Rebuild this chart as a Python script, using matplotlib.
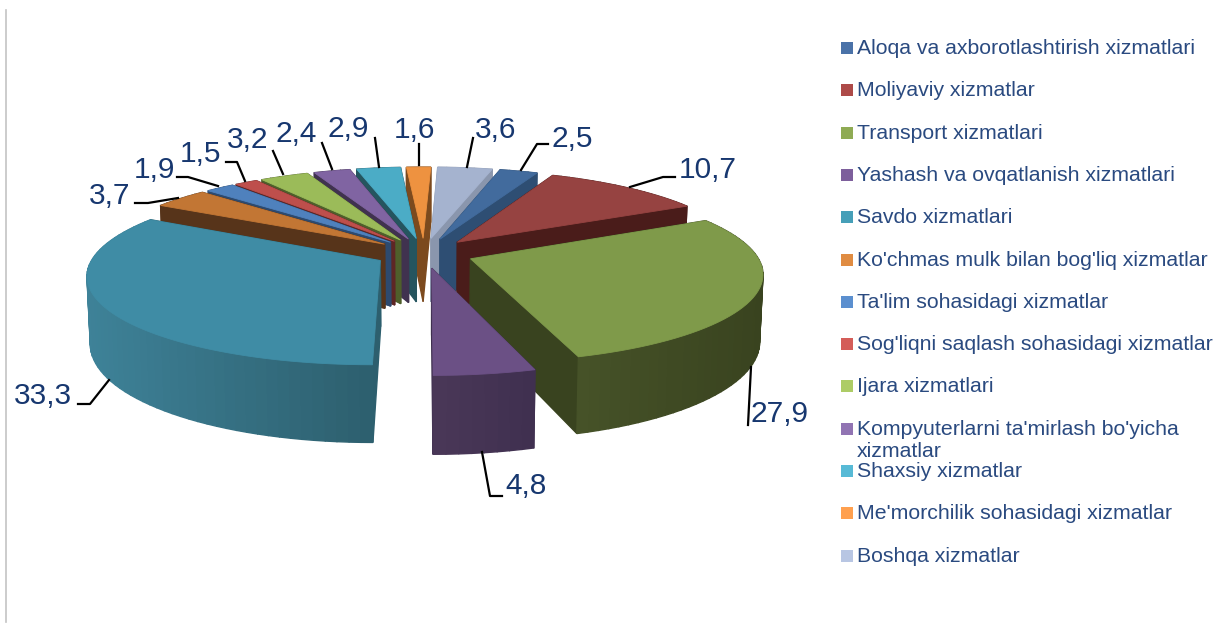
import numpy as np
import matplotlib
matplotlib.use("Agg")
import matplotlib.pyplot as plt
from matplotlib.colors import to_rgb
from matplotlib.patches import Rectangle

plt.rcParams['font.family'] = ['Liberation Sans', 'DejaVu Sans']

# ====== DATA ======
categories = [
    "Aloqa va axborotlashtirish xizmatlari",
    "Moliyaviy xizmatlar",
    "Transport xizmatlari",
    "Yashash va ovqatlanish xizmatlari",
    "Savdo xizmatlari",
    "Ko'chmas mulk bilan bog'liq xizmatlar",
    "Ta'lim sohasidagi xizmatlar",
    "Sog'liqni saqlash sohasidagi xizmatlar",
    "Ijara xizmatlari",
    "Kompyuterlarni ta'mirlash bo'yicha\nxizmatlar",
    "Shaxsiy xizmatlar",
    "Me'morchilik sohasidagi xizmatlar",
    "Boshqa xizmatlar",
]
values = [2.5, 10.7, 27.9, 4.8, 33.3, 3.7, 1.9, 1.5, 3.2, 2.4, 2.9, 1.6, 3.6]
value_labels = ["2,5", "10,7", "27,9", "4,8", "33,3", "3,7", "1,9", "1,5", "3,2", "2,4", "2,9", "1,6", "3,6"]

# ====== COLOURS ======
top_colors = ['#426B9D', '#964341', '#7F9A4A', '#6B5085', '#3F8CA5', '#C27634', '#4F81BD',
              '#BE4F4C', '#9BBB59', '#8064A2', '#4BACC6', '#EE9240', '#A5B3CF']
wall_left = ['#2E4E73', '#4A1C1A', '#465228', '#4A3858', '#3E8298', '#57341A', '#2D4A6F',
             '#5E2625', '#4F5F2B', '#40324F', '#25555F', '#7C4A1E', '#8A96AD']
wall_right = ['#2E4E73', '#4A1C1A', '#39431F', '#3F3050', '#2D5F6E', '#57341A', '#2D4A6F',
              '#5E2625', '#4F5F2B', '#40324F', '#25555F', '#7C4A1E', '#8A96AD']
legend_colors = ['#4A72A8', '#AD4A48', '#8FAB54', '#7D5F9C', '#469FB8', '#E08C42', '#5B8FCF',
                 '#D45D59', '#ADCC66', '#9174B3', '#57BAD6', '#FFA04F', '#B8C6E3']
text_color = '#17376F'

# ====== PIE GEOMETRY (pixels) ======
start_angle = 14.76
explode = 0.175
cx, cy = 424, 253
scale_x, scale_y = 285, 86
persp = 0.15
depth = 65

# label centre and leader line, same order as values
label_xy = [(572, 139), (708, 170), (780, 414), (526, 486), (43, 396), (110, 196), (154, 170),
            (200, 154), (248, 140), (296, 134), (348, 129), (415, 130), (496, 130)]
leaders = [
    [(548, 144), (537, 144), (521, 170)],
    [(675, 177), (663, 177), (630, 187)],
    [(748, 425), (751, 367)],
    [(502, 496), (490, 496), (482, 452)],
    [(78, 404), (90, 404), (109, 380)],
    [(135, 203), (148, 203), (178, 198)],
    [(177, 177), (188, 177), (218, 186)],
    [(226, 162), (237, 162), (245, 181)],
    [(273, 151), (283, 174)],
    [(322, 143), (332, 169)],
    [(375, 138), (379, 167)],
    [(419, 144), (419, 165)],
    [(473, 138), (467, 167)],
]


def project(u, v, bottom=False):
    w = 1 - persp * v
    sx = scale_x * u / w
    sy = cy + scale_y * v / w
    if bottom:
        sx = sx * 0.99
        sy = sy + depth / w
    return cx + sx, sy


def quad(ax, a, b, color, z):
    xa, ya = project(a[0], a[1])
    xb, yb = project(b[0], b[1])
    xc, yc = project(b[0], b[1], True)
    xd, yd = project(a[0], a[1], True)
    ax.fill([xa, xb, xc, xd], [ya, yb, yc, yd], color=color, lw=1.0, zorder=z)


fig = plt.figure(figsize=(12.2, 6.28), dpi=100)
ax = fig.add_axes([0, 0, 1, 1])
ax.set_xlim(0, 1220)
ax.set_ylim(628, 0)
ax.axis('off')

# turn the values into slice angles, clockwise from the top
vals = np.array(values)
starts = start_angle + 360 * np.concatenate(([0], np.cumsum(vals)[:-1])) / vals.sum()
ends = starts + 360 * vals / vals.sum()
mids = np.radians((starts + ends) / 2)

# paint from the back to the front
order = np.argsort(-np.cos(mids))
z = 2
for i in order:
    off_u = explode * np.sin(mids[i])
    off_v = -explode * np.cos(mids[i])
    th = np.radians(np.linspace(starts[i], ends[i], max(int(ends[i] - starts[i]) // 2, 2) + 1))
    rim_u = off_u + np.sin(th)
    rim_v = off_v - np.cos(th)
    tip = (off_u, off_v)
    left, right = np.array(to_rgb(wall_left[i])), np.array(to_rgb(wall_right[i]))

    # walls, far ones first
    walls = [(tip, (rim_u[0], rim_v[0]), wall_right[i]), (tip, (rim_u[-1], rim_v[-1]), wall_right[i])]
    for j in range(len(th) - 1):
        a = (rim_u[j], rim_v[j])
        b = (rim_u[j + 1], rim_v[j + 1])
        xm = project((a[0] + b[0]) / 2, (a[1] + b[1]) / 2)[0]
        x0, x1 = project(rim_u, rim_v)[0].min(), project(rim_u, rim_v)[0].max()
        t = (xm - x0) / max(x1 - x0, 1)
        walls.append((a, b, tuple(left + (right - left) * t)))
    walls.sort(key=lambda q: q[0][1] + q[1][1])
    for a, b, col in walls:
        quad(ax, a, b, col, z)

    # top face
    xs, ys = project(np.r_[off_u, rim_u], np.r_[off_v, rim_v])
    ax.fill(xs, ys, color=top_colors[i], lw=0.6, zorder=z)
    z += 1

# ====== VALUE LABELS ======
for lab, (x, y), pts in zip(value_labels, label_xy, leaders):
    ax.text(x, y, lab, color=text_color, fontsize=21.5, ha='center', va='center', zorder=50)
    ax.plot([p[0] for p in pts], [p[1] for p in pts], color='black', lw=1.6, zorder=40)

# ====== LEGEND ======
for i, name in enumerate(categories):
    y = 48 + i * 42.3
    ax.add_patch(Rectangle((841, y - 6), 12, 12, facecolor=legend_colors[i], edgecolor='none'))
    ax.text(857, y - 9, name, color='#2A4A80', fontsize=15.3, ha='left', va='top', linespacing=1.25)

# left border line
ax.plot([6, 6], [10, 622], color='#C4C4C4', lw=1.2)

plt.savefig("out.png", dpi=100)
